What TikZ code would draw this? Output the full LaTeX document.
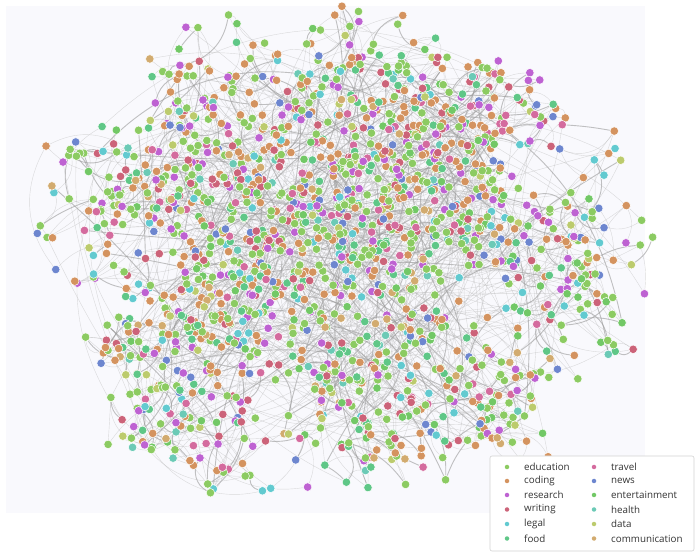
\documentclass[tikz,border=0pt]{standalone}
\usepackage{fontspec}
\setmainfont{Open Sans}
\pgfdeclarelayer{panel}
\pgfdeclarelayer{background}
\pgfsetlayers{panel,background,main}
\definecolor{cedu}{HTML}{8CCB62}
\definecolor{ccod}{HTML}{D4935F}
\definecolor{cres}{HTML}{BE62D2}
\definecolor{cwri}{HTML}{CC6379}
\definecolor{cleg}{HTML}{62CAD0}
\definecolor{cfoo}{HTML}{5FC787}
\definecolor{ctra}{HTML}{D46B9E}
\definecolor{cnew}{HTML}{6D86CF}
\definecolor{cent}{HTML}{72C866}
\definecolor{chea}{HTML}{6BCAB6}
\definecolor{cdat}{HTML}{BCCB6D}
\definecolor{ccom}{HTML}{D2AB6F}
\definecolor{panelbg}{HTML}{F9F9FD}
\definecolor{legtext}{HTML}{333333}
\newcommand\pickcol[1]{\ifcase#1 cedu\or cedu\or cedu\or cedu\or cedu\or cedu\or cedu\or cedu\or cedu\or cedu\or cedu\or
ccod\or ccod\or ccod\or ccod\or ccod\or ccod\or ccod\or ccod\or
cres\or cres\or cres\or cres\or
cwri\or cwri\or cwri\or
cleg\or cleg\or
cfoo\or cfoo\or cfoo\or
ctra\or ctra\or
cnew\or cnew\or
cent\or cent\or
chea\or cdat\or ccom\else cedu\fi}
\tikzset{
  dot/.style={circle, draw=white, line width=0.5pt, minimum size=8.5pt, inner sep=0pt},
  edgefaint/.style={draw=gray!60, line width=0.4pt, opacity=0.45},
  edgedark/.style={draw=gray!80, line width=0.9pt, opacity=0.6},
  legdot/.style={circle, inner sep=0pt, minimum size=4.5pt},
  legtxt/.style={anchor=west, inner sep=0pt, text=legtext, font=\fontsize{9.8}{11}\selectfont},
}
\begin{document}
\begin{tikzpicture}[x=1pt,y=1pt]
\useasboundingbox (0,0) rectangle (697,555);
\begin{pgfonlayer}{panel}
\fill[panelbg] (6,42) rectangle (645,549);
\end{pgfonlayer}
\pgfmathsetseed{4711}
\xdef\CX{335}\xdef\CY{298}
\foreach \i in {1,...,1800}{
  \pgfmathtruncatemacro\m{mod(\i-1,6)}
  \ifnum\m=0
    \pgfmathsetmacro\nx{\CX+90*rand}
    \pgfmathsetmacro\ny{\CY+75*rand}
    \pgfmathsetmacro\ins{((\nx-335)/292)^2+((\ny-298)/228)^2}
    \pgfmathsetmacro\jmp{rnd}
    \ifdim\ins pt>1pt \def\jmp{0}\fi
    \ifdim\jmp pt<0.3pt
      \pgfmathsetmacro\ang{360*rnd}
      \pgfmathsetmacro\rr{pow(rnd,0.55)}
      \pgfmathsetmacro\nx{335+292*\rr*cos(\ang)}
      \pgfmathsetmacro\ny{298+228*\rr*sin(\ang)}
    \fi
    \xdef\CX{\nx}\xdef\CY{\ny}
  \fi
  \pgfmathsetmacro\px{\CX+32*rand}
  \pgfmathsetmacro\py{\CY+32*rand}
  \pgfmathtruncatemacro\k{int(rnd*40)}
  \edef\cname{\pickcol{\k}}
  \node[dot, fill=\cname] (n\i) at (\px,\py) {};
}
\begin{pgfonlayer}{background}
\foreach \i in {2,...,1800}{
  \pgfmathtruncatemacro\m{mod(\i-1,6)}
  \pgfmathsetmacro\b{45*rand}
  \pgfmathtruncatemacro\s{mod(\i,4)}
  \ifnum\m>0
    \pgfmathtruncatemacro\j{\i-1-int(rnd*\m)}
    \ifnum\s=0
      \draw[edgedark] (n\i) to[bend left=\b] (n\j);
    \else
      \draw[edgefaint] (n\i) to[bend left=\b] (n\j);
    \fi
  \fi
  \ifnum\i>12
    \ifodd\i
      \pgfmathtruncatemacro\j{\i-6-int(rnd*6)}
      \pgfmathsetmacro\b{40*rand}
      \pgfmathtruncatemacro\s{mod(\i,7)}
      \ifnum\s=1
        \draw[edgedark] (n\i) to[bend right=\b] (n\j);
      \else
        \draw[edgefaint] (n\i) to[bend right=\b] (n\j);
      \fi
    \fi
  \fi
}
\end{pgfonlayer}
% legend
\node[draw=gray!35, fill=white, rounded corners=2pt, line width=0.6pt, minimum width=204pt, minimum height=95pt, inner sep=0pt] (legend) at (592,51.5) {};
\node[legdot, fill=cedu] (d1) at (507,88) {}; \node[legtxt] (t1) at (524,88) {education};
\node[legdot, fill=ccod] (d2) at (507,74) {}; \node[legtxt] (t2) at (524,74) {coding};
\node[legdot, fill=cres] (d3) at (507,60) {}; \node[legtxt] (t3) at (524,60) {research};
\node[legdot, fill=cwri] (d4) at (507,45.5) {}; \node[legtxt] (t4) at (524,45.5) {writing};
\node[legdot, fill=cleg] (d5) at (507,31) {}; \node[legtxt] (t5) at (524,31) {legal};
\node[legdot, fill=cfoo] (d6) at (507,16.5) {}; \node[legtxt] (t6) at (524,16.5) {food};
\node[legdot, fill=ctra] (d7) at (594,88) {}; \node[legtxt] (t7) at (611,88) {travel};
\node[legdot, fill=cnew] (d8) at (594,74) {}; \node[legtxt] (t8) at (611,74) {news};
\node[legdot, fill=cent] (d9) at (594,60) {}; \node[legtxt] (t9) at (611,60) {entertainment};
\node[legdot, fill=chea] (d10) at (594,45.5) {}; \node[legtxt] (t10) at (611,45.5) {health};
\node[legdot, fill=cdat] (d11) at (594,31) {}; \node[legtxt] (t11) at (611,31) {data};
\node[legdot, fill=ccom] (d12) at (594,16.5) {}; \node[legtxt] (t12) at (611,16.5) {communication};
\end{tikzpicture}
\end{document}
